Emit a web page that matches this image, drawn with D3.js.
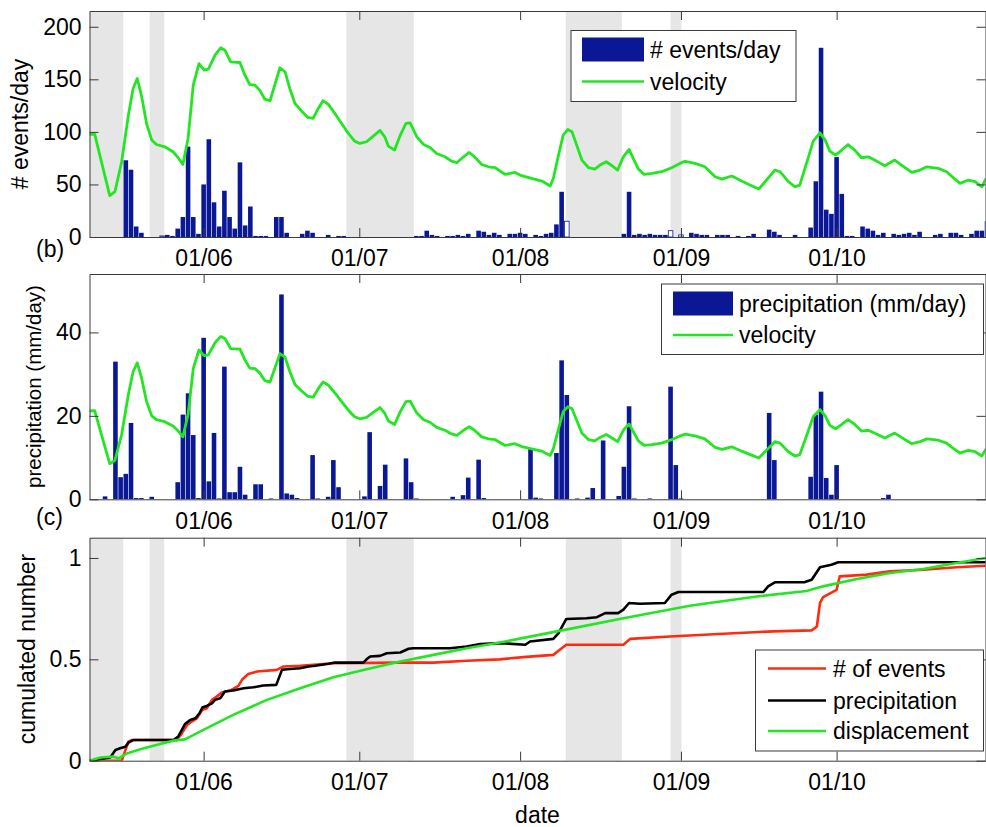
<!DOCTYPE html>
<html>
<head>
<meta charset="utf-8">
<script src="https://cdn.jsdelivr.net/npm/d3@7"></script>
<style>
body { margin: 0; background: #fff; }
text { font-family: "Liberation Sans", Arial, Helvetica, sans-serif; }
</style>
</head>
<body>
<svg id="fig" width="986" height="827"></svg>
<script>
// ---- data ----
var monthTicks = ["06-01", "07-01", "08-01", "09-01", "10-01"]

// gray periods, in days since 10 May
var grayStart = [0, 11.6, 49.5, 91.8, 112.0]
var grayEnd = [6.5, 14.4, 62.5, 102.6, 114.1]

// (b) number of events per day
var eventDates = ["05-17","05-18","05-19","05-20","05-25","05-26","05-27","05-28","05-29","05-30","05-31",
  "06-01","06-02","06-03","06-04","06-05","06-06","06-07","06-08","06-09","06-10","06-11","06-12","06-13",
  "06-15","06-16","06-17","06-20","06-21","06-22","06-25","06-27","06-28",
  "07-12","07-13","07-14","07-15","07-16","07-18","07-19","07-20","07-21","07-22","07-24","07-25","07-26",
  "07-27","07-28","07-30","07-31","08-01","08-02","08-04","08-05","08-06","08-07","08-08","08-09",
  "08-21","08-22","08-23","08-24","08-25","08-26","08-27","08-28","08-29",
  "09-03","09-04","09-05","09-06","09-08","09-09","09-10","09-12","09-14","09-15","09-18","09-19","09-20",
  "09-23","09-26","09-27","09-28","09-29","09-30","10-01","10-02","10-03","10-04","10-06","10-07","10-08",
  "10-09","10-10","10-12","10-13","10-14","10-15","10-16","10-17","10-20","10-21","10-23","10-24","10-25",
  "10-27","10-28","10-29","10-30"]
var eventCounts = [73,64,10,4,2,1,8,19,86,19,3,
  50,93,33,10,44,19,8,71,11,29,1,1,1,
  19,19,4,3,6,4,2,1,1,
  1,1,6,2,1,1,1,2,1,3,6,5,2,
  4,2,3,3,4,3,2,1,3,4,12,43,
  3,43,2,3,2,3,2,2,2,
  4,3,2,2,2,2,2,1,1,3,7,5,2,
  2,9,53,180,26,22,76,41,1,1,10,8,6,
  2,4,3,2,3,4,2,5,2,3,4,4,2,
  3,6,6,15]
// incomplete days (drawn hollow)
var hollowDates = ["05-24", "08-10", "08-30", "09-01"]
var hollowCounts = [1, 15, 6, 2]

// (c) precipitation, mm/day
var rainDates = ["05-13","05-15","05-16","05-17","05-18","05-19","05-20","05-22","05-27","05-28","05-29","05-30","05-31",
  "06-01","06-02","06-03","06-04","06-05","06-06","06-07","06-08","06-09","06-11","06-12","06-14","06-16","06-17",
  "06-18","06-19","06-22","06-23","06-25","06-26","06-27","07-02","07-03","07-05","07-06","07-10","07-11","07-12",
  "07-19","07-21","07-22","07-24","07-25","08-03","08-04","08-05","08-08","08-09","08-10","08-12","08-14","08-15",
  "08-17","08-20","08-21","08-22","08-23","08-26","08-30","08-31","09-01","09-18","09-19","09-26","09-27","09-28",
  "09-29","09-30","10-01","10-10","10-11"]
var rainMm = [0.7,33,5.3,6.1,18.3,0.3,0.3,0.6,4.1,20.3,25.4,15.4,0.3,
  38.7,4.3,15.9,0.2,31.8,1.7,1.7,7.8,1.1,3.6,3.6,0.2,49.1,1.4,
  1.1,0.3,10.6,0.2,0.6,9.4,2.9,0.7,16.1,3.2,8.3,9.8,4.1,0.2,
  0.6,1,5.2,9.5,0.3,12.3,0.4,0.2,11.1,33.3,25,0.2,0.4,2.7,
  14.1,0.8,7.8,22.3,0.2,0.2,27,8.2,0.2,20.7,9.4,5.4,20.3,25.8,
  5.1,1.1,8.2,0.3,1.1]

// velocity (days since 10 May, value in panel (b) units)
var velDay = [0,1,2.3,3.9,4.9,6.2,7.5,8.4,9.2,10,11,12,12.9,14.5,16.1,17.1,18,19,20,21.1,22.1,22.9,24.2,25.3,
  26.1,27.2,29,29.9,30.9,31.9,32.8,33.8,34.8,35.7,36.7,37.7,38.6,39.6,40.9,42.1,43.1,44.1,45,46,47.3,48.6,
  49.9,51.1,52.1,53.4,54.7,56,56.9,57.6,58.8,59.9,61,61.8,63.1,64.4,65.7,66.9,68.5,69.8,70.8,72.1,73.2,74.2,
  75.6,76.9,78.2,80.1,82,83.3,85.2,87.2,88.8,89.4,90.4,91.3,92.2,93,93.9,94.9,96.2,97.4,98.4,99.6,100.7,101.8,
  102.9,104,104.8,105.8,106.9,108.4,110.3,112.2,113.8,114.8,116.7,118.6,120.6,121.9,123.8,125.7,127.6,129,
  130.5,132.1,133.1,134.7,136,136.9,138.2,139.5,140.8,141.8,142.7,143.8,145,146.2,147.5,148.8,150.1,151.7,
  153.3,155.2,156.5,158.5,160.1,161.4,163.6,165.2,166.5,167.8,169.4,170.7,172,172.8]
var velocity = [97.6,97.9,71.6,39.3,43.1,71.6,116,141,150.8,135,108,92.2,88,85.8,81.1,75.4,69,93.8,144.4,165,158.7,159.6,173,180,
  177.7,166.6,166,154.6,145,144.4,139.7,131.1,129.6,144.4,161,157,141.3,127,119.7,113.7,112.8,122.3,129.6,126.4,117.5,108,
  98.5,91.2,89,90.6,96,101.4,95.3,86.5,82.7,96.9,108,108.6,95.3,88,84.9,79.5,76.3,72.2,70.6,76.3,80.4,76.3,
  69,66.8,65.9,59.5,61.4,58.3,55.7,53.2,48.5,55.7,77.9,96.9,102.3,100.1,87.4,73.2,65.9,64.6,68.4,71.6,67.8,63.7,
  76.3,83.3,74.8,64.6,59.5,60.5,62.1,65.9,70,72,70,66.8,57.3,55.1,58,53.2,48.8,45.6,
  54.2,63.7,62.1,52.6,47.8,49.4,70,91.2,99.1,92.2,81.7,77.9,82.7,88,82.7,75.4,76.3,72.2,
  67.8,73.2,68.4,61.4,63.7,66.8,65.3,62.1,56.4,51,54.2,52.6,47.8,55.7]

// (d) cumulated, normalised
var cumEventsDay = [0,6.2,6.7,7.5,8.2,16.8,17.8,18.8,19.7,20.7,21.7,22.6,23.6,24.5,25.5,27.1,28.7,29.4,30.6,32.3,
  36.1,37.4,40.6,47,59.9,66.3,72.7,79.1,83.6,89.4,90.4,91.9,102.9,104.2,111.9,122.2,131.8,139.2,140.2,140.8,141.4,
  144,144.6,149.8,154.3,160.7,167.1,172.8]
var cumEvents = [0,0,0.036,0.094,0.102,0.102,0.135,0.176,0.193,0.209,0.25,0.259,0.3,0.316,0.336,0.346,0.369,0.399,0.428,0.44,
  0.448,0.465,0.468,0.481,0.484,0.484,0.493,0.5,0.511,0.522,0.542,0.572,0.572,0.601,0.613,0.626,0.638,0.643,0.662,0.778,0.807,
  0.843,0.909,0.918,0.934,0.942,0.954,0.962]
var cumRainDay = [0,4,5,5.9,6.9,7.5,8.4,16.2,17.1,18.4,19.4,20.4,21.2,21.8,22.6,23.6,24.2,25.2,26.1,27.7,29.7,31.6,33.5,
  36,37.1,38,40.6,42.2,43.5,46.1,47.3,52.8,53.4,54.1,56,57.3,59.9,61.5,62.4,69.5,72.7,75.3,79.1,84,84.9,89.4,90.4,
  91.9,95.8,97.8,99.4,101.9,102.9,104,106.1,110.9,112.2,113.5,129.9,130.8,132.1,137.9,139.2,140.8,142.1,143,144.3,172.8]
var cumRain = [0,0.016,0.053,0.061,0.069,0.089,0.102,0.102,0.119,0.181,0.201,0.209,0.234,0.264,0.27,0.283,0.3,0.308,0.341,0.346,0.357,0.362,0.371,
  0.374,0.448,0.451,0.456,0.465,0.468,0.478,0.484,0.484,0.5,0.514,0.517,0.53,0.534,0.552,0.555,0.555,0.563,0.575,0.58,0.572,0.588,0.601,0.629,
  0.699,0.703,0.708,0.728,0.728,0.745,0.778,0.774,0.778,0.819,0.832,0.832,0.86,0.88,0.881,0.893,0.954,0.962,0.967,0.979,0.979]
var cumDispDay = [0,2.1,4.6,5.6,7.2,9.8,13.6,16.2,18.4,21.3,27.7,34.2,40.6,47,53.4,59.9,66.3,72.7,79.1,90.1,102.9,115.7,
  128.6,138.2,141.4,147.9,154.3,160.7,167.1,172.8]
var cumDisp = [0,0.016,0.02,0.012,0.036,0.056,0.082,0.099,0.105,0.143,0.226,0.3,0.357,0.412,0.451,0.489,0.522,0.555,0.583,0.638,0.703,0.764,
  0.81,0.837,0.86,0.896,0.926,0.946,0.975,1.0]

// ---- layout ----
var left = 89.5, right = 985.5
var p1 = {top: 11, bottom: 237}
var p2 = {top: 274, bottom: 499.3}
var p3 = {top: 537.7, bottom: 760.7}
var barBlue = "#0a1896", velGreen = "#22e622", evRed = "#ff2a10", axisGray = "#3a3a3a"

var day0 = new Date(2009, 4, 10)
var parseDay = d3.timeParse("%Y-%m-%d")
function md(s) { return parseDay("2009-" + s) }
function fromDay(d) { return new Date(day0.getTime() + d * 864e5) }

var svg = d3.select("#fig")
var x = d3.scaleTime().domain([day0, fromDay(172.7)]).range([left, right])
var y1 = d3.scaleLinear().domain([0, 215]).range([p1.bottom, p1.top])
var y2 = d3.scaleLinear().domain([0, 54]).range([p2.bottom, p2.top])
var v2 = d3.scaleLinear().domain([0, 249]).range([p2.bottom, p2.top])
var y3 = d3.scaleLinear().domain([0, 1.1]).range([p3.bottom, p3.top])

svg.append("rect").attr("width", 986).attr("height", 827).attr("fill", "#fff")

var defs = svg.append("defs")
;[p1, p2, p3].forEach(function(p, i) {
    defs.append("clipPath").attr("id", "clip" + i)
        .append("rect")
        .attr("x", left).attr("y", p.top)
        .attr("width", right - left).attr("height", p.bottom - p.top)
})

function draw_gray(p, i) {
    svg.append("g").attr("clip-path", "url(#clip" + i + ")")
        .selectAll("rect").data(d3.zip(grayStart, grayEnd)).enter()
        .append("rect")
        .attr("x", function(d) { return x(fromDay(d[0])) })
        .attr("width", function(d) { return x(fromDay(d[1])) - x(fromDay(d[0])) })
        .attr("y", p.top)
        .attr("height", p.bottom - p.top)
        .attr("fill", "#e6e6e6")
}

function draw_bars(i, dates, vals, y, hollow) {
    svg.append("g").attr("clip-path", "url(#clip" + i + ")")
        .selectAll("rect").data(d3.zip(dates, vals)).enter()
        .append("rect")
        .attr("x", function(d) { return x(d3.timeHour.offset(md(d[0]), -12)) + 0.3 })
        .attr("width", function(d) {
            return x(d3.timeHour.offset(md(d[0]), 12)) - x(d3.timeHour.offset(md(d[0]), -12)) - 0.6 })
        .attr("y", function(d) { return y(d[1]) })
        .attr("height", function(d) { return y(0) - y(d[1]) })
        .attr("fill", hollow ? "#fff" : barBlue)
        .attr("stroke", hollow ? barBlue : "none")
        .attr("stroke-width", 0.8)
}

function draw_line(i, xs, ys, y, color, w) {
    var line = d3.line()
        .x(function(d) { return x(fromDay(d[0])) })
        .y(function(d) { return y(d[1]) })
    svg.append("path").attr("clip-path", "url(#clip" + i + ")")
        .datum(d3.zip(xs, ys))
        .attr("d", line)
        .attr("fill", "none")
        .attr("stroke", color)
        .attr("stroke-width", w)
        .attr("stroke-linejoin", "round")
}

function style_axis(g) {
    g.attr("font-size", 23).attr("font-family", "'Liberation Sans', Arial, sans-serif")
    g.selectAll(".domain").attr("stroke", axisGray).attr("stroke-width", 1)
    g.selectAll(".tick line").attr("stroke", axisGray).attr("stroke-width", 1)
    g.selectAll("text").attr("fill", "#000")
}

function draw_axes(p, y, yTicks) {
    var ticks = monthTicks.map(md)
    style_axis(svg.append("g").attr("transform", "translate(0," + p.bottom + ")")
        .call(d3.axisBottom(x).tickValues(ticks).tickFormat(d3.timeFormat("%d/%m"))
            .tickSizeInner(-9).tickSizeOuter(0).tickPadding(13)))
    style_axis(svg.append("g").attr("transform", "translate(0," + p.top + ")")
        .call(d3.axisTop(x).tickValues(ticks).tickFormat("").tickSizeInner(-9).tickSizeOuter(0)))
    style_axis(svg.append("g").attr("transform", "translate(" + left + ",0)")
        .call(d3.axisLeft(y).tickValues(yTicks).tickFormat(String)
            .tickSizeInner(-9).tickSizeOuter(0).tickPadding(8)))
    style_axis(svg.append("g").attr("transform", "translate(" + right + ",0)")
        .call(d3.axisRight(y).tickValues(yTicks).tickFormat("").tickSizeInner(-9).tickSizeOuter(0)))
}

function draw_ylabel(text, cx, cy, size) {
    svg.append("text")
        .attr("transform", "translate(" + cx + "," + cy + ") rotate(-90)")
        .attr("text-anchor", "middle")
        .attr("font-size", size)
        .text(text)
}

function draw_legend(box, items) {
    var g = svg.append("g")
    g.append("rect").attr("x", box.x).attr("y", box.y).attr("width", box.w).attr("height", box.h)
        .attr("fill", "#fff").attr("stroke", axisGray).attr("stroke-width", 1)
    items.forEach(function(it) {
        if (it.type == "bar") {
            g.append("rect").attr("x", box.sx).attr("y", it.y - 12).attr("width", box.sw).attr("height", 24)
                .attr("fill", barBlue)
        } else {
            g.append("line").attr("x1", box.sx).attr("x2", box.sx + box.sw)
                .attr("y1", it.y).attr("y2", it.y)
                .attr("stroke", it.color).attr("stroke-width", 2.6)
        }
        g.append("text").attr("x", box.tx).attr("y", it.y).attr("dy", "0.35em")
            .attr("font-size", 23).text(it.label)
    })
}

// ---- panel (b) ----
draw_gray(p1, 0)
draw_bars(0, eventDates, eventCounts, y1, false)
draw_bars(0, hollowDates, hollowCounts, y1, true)
draw_line(0, velDay, velocity, y1, velGreen, 2.8)
draw_axes(p1, y1, [0, 50, 100, 150, 200])
draw_ylabel("# events/day", 28, 124, 23)
draw_legend({x: 571, y: 30.5, w: 225, h: 71, sx: 582, sw: 62, tx: 650},
    [{type: "bar", y: 49.5, label: "# events/day"},
     {type: "line", y: 81.5, color: velGreen, label: "velocity"}])

// ---- panel (c) ----
draw_bars(1, rainDates, rainMm, y2, false)
draw_line(1, velDay, velocity, v2, velGreen, 2.8)
draw_axes(p2, y2, [0, 20, 40])
draw_ylabel("precipitation (mm/day)", 41, 386.5, 20.5)
draw_legend({x: 661.5, y: 284, w: 322, h: 70.5, sx: 673, sw: 60, tx: 739},
    [{type: "bar", y: 303.5, label: "precipitation (mm/day)"},
     {type: "line", y: 335, color: velGreen, label: "velocity"}])

// ---- panel (d) ----
draw_gray(p3, 2)
draw_line(2, cumEventsDay, cumEvents, y3, evRed, 2.6)
draw_line(2, cumRainDay, cumRain, y3, "#000", 2.6)
draw_line(2, cumDispDay, cumDisp, y3, velGreen, 2.6)
draw_axes(p3, y3, [0, 0.5, 1])
draw_ylabel("cumulated number", 35, 649, 23)
draw_legend({x: 755.5, y: 650, w: 228, h: 101, sx: 768, sw: 58, tx: 833},
    [{type: "line", y: 668.5, color: evRed, label: "# of events"},
     {type: "line", y: 700.5, color: "#000", label: "precipitation"},
     {type: "line", y: 731, color: velGreen, label: "displacement"}])

svg.append("text").attr("x", 537.5).attr("y", 823).attr("text-anchor", "middle")
    .attr("font-size", 23).text("date")

// panel letters
svg.append("text").attr("x", 36).attr("y", 257).attr("font-size", 23).text("(b)")
svg.append("text").attr("x", 36).attr("y", 525).attr("font-size", 23).text("(c)")
</script>
</body>
</html>
